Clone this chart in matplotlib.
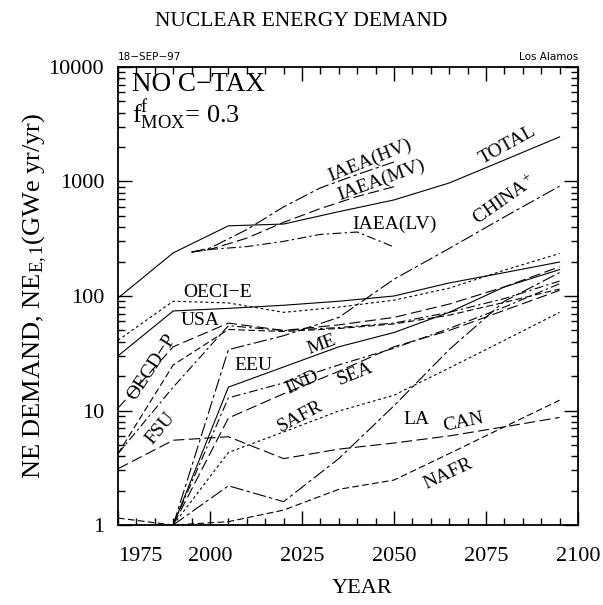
import numpy as np
import matplotlib
matplotlib.use("Agg")
import matplotlib.pyplot as plt
from matplotlib.ticker import FixedLocator, NullFormatter

plt.rcParams["font.family"] = ["Liberation Serif", "DejaVu Serif"]
plt.rcParams["mathtext.fontset"] = "custom"
plt.rcParams["mathtext.rm"] = "Liberation Serif"
plt.rcParams["mathtext.it"] = "Liberation Serif:italic"

# model years
years = [1975, 1990, 2005, 2020, 2035, 2050, 2065, 2080, 2095]
iaea_years = [1995, 2000, 2010, 2020, 2030, 2040, 2050]

# GWe yr/yr (None = not drawn)
total = [96, 238, 410, 425, 545, 690, 970, 1540, 2450]
oeci_e = [41, 90, 87, 72, 80, 92, 117, 168, 235]
usa = [30, 74, 78, 83, 90, 100, 130, 160, 198]
oecd_p = [10.5, 36, 58, 50, 56, 65, 85, 120, 180]
fsu = [4.2, 16, 55, 50, 53, 58, 72, 95, 135]
eeu = [4.2, 25, 51, 49, 52, 57, 68, 88, 115]
china = [None, 1, 34, 45, 65, 140, 260, 490, 910]
me = [None, 1, 16, 24, 36, 48, 72, 120, 170]
ind = [None, 1, 12.9, 17.4, 25, 35, 52, 80, 128]
sea = [None, 1, 8.6, 14, 22, 36, 50, 75, 112]
safr = [None, 1, 4.3, 6.5, 9.9, 13.6, 23.5, 41, 72]
la = [None, 1, 2.2, 1.6, 3.8, 11, 34, 90, 160]
can = [3.1, 5.5, 5.9, 3.8, 4.6, 5.2, 6.0, 7.2, 8.7]
nafr = [1.15, 1.0, 1.07, 1.35, 2.05, 2.47, 4.2, 7.2, 12.3]

iaea_hv = [242, 262, 380, 600, 880, 1150, 1480]
iaea_mv = [242, 255, 320, 440, 580, 740, 900]
iaea_lv = [242, 255, 270, 300, 345, 362, 268]

DOT = (0, (2.5, 2.5))
DASH = (0, (6, 3))
LDASH = (0, (10, 4))
DASHDOT = (0, (8, 3, 2, 3))
LDASHDOT = (0, (12, 3, 3, 3))

series = [
    (total, "-"), (oeci_e, DOT), (usa, "-"), (oecd_p, LDASH),
    (fsu, DASHDOT), (eeu, DASH), (china, LDASHDOT), (me, "-"),
    (ind, DASHDOT), (sea, LDASH), (safr, DOT), (la, LDASHDOT),
    (can, LDASH), (nafr, DASH),
]

fig = plt.figure(figsize=(6.03, 6.05), dpi=100)
ax = fig.add_axes([0.1957, 0.1322, 0.7628, 0.7571])

for vals, ls in series:
    x = [y for y, v in zip(years, vals) if v is not None]
    v = [v for v in vals if v is not None]
    ax.plot(x, v, color="black", lw=0.8, linestyle=ls)

ax.plot(iaea_years, iaea_hv, color="black", lw=0.8, linestyle=LDASHDOT)
ax.plot(iaea_years, iaea_mv, color="black", lw=0.8, linestyle=LDASH)
ax.plot(iaea_years, iaea_lv, color="black", lw=0.8, linestyle=DASHDOT)

ax.set_yscale("log")
ax.set_xlim(1975, 2100)
ax.set_ylim(1, 10000)

ax.set_xticks([1975, 2000, 2025, 2050, 2075, 2100])
ax.xaxis.set_minor_locator(FixedLocator(np.arange(1975, 2101, 5)))
ax.set_yticks([1, 10, 100, 1000, 10000])
ax.set_yticklabels(["1", "10", "100", "1000", "10000"])
ax.yaxis.set_minor_formatter(NullFormatter())
ax.tick_params(which="both", direction="in", top=True, right=True,
               labelsize=16, width=1.0)
ax.tick_params(which="major", length=10)
ax.tick_params(axis="x", which="major", pad=16)
ax.tick_params(axis="y", which="major", pad=10)
ax.tick_params(which="minor", length=5)
ax.get_xticklabels()[0].set_horizontalalignment("left")
for s in ax.spines.values():
    s.set_linewidth(1.3)

ax.set_xlabel("YEAR", fontsize=16)
ax.xaxis.set_label_coords(0.53, -0.117)
ax.set_ylabel(r"NE DEMAND, NE$_{\mathrm{E,1}}$(GWe yr/yr)", fontsize=19)
ax.yaxis.set_label_coords(-0.15, 0.5)
fig.text(0.5, 0.965, "NUCLEAR ENERGY DEMAND", ha="center", va="center",
         fontsize=15.5)
fig.text(0.1957, 0.897, "18\u2212SEP\u221297", fontsize=7.5,
         family="DejaVu Sans", va="bottom")
fig.text(0.9585, 0.897, "Los Alamos", fontsize=7.5, family="DejaVu Sans",
         va="bottom", ha="right")

ax.text(0.03, 0.99, "NO C\u2212TAX", transform=ax.transAxes, fontsize=19.5,
        va="top")
ax.text(0.03, 0.932, r"f$^{\mathrm{f}}_{\mathrm{MOX}}$= 0.3",
        transform=ax.transAxes, fontsize=19, va="top")

labels = [
    ("TOTAL", 2081, 2080, 29), (r"CHINA$^+$", 2080, 690, 35),
    ("IAEA(HV)", 2043.5, 1540, 22), ("IAEA(MV)", 2046.5, 1030, 20),
    ("IAEA(LV)", 2050, 425, 0), ("OECI\u2212E", 2002, 108, 0),
    ("USA", 1997.3, 60.5, 0), ("OECD\u2212P", 1984.2, 24, 57),
    ("FSU", 1986.4, 7.0, 50), ("EEU", 2011.7, 24.5, 0),
    ("ME", 2030.4, 37.3, 20), ("IND", 2025, 17.4, 25),
    ("SEA", 2039.4, 20.8, 22), ("SAFR", 2024.5, 8.8, 28),
    ("LA", 2056, 8.4, 0), ("CAN", 2068.8, 7.9, 12), ("NAFR", 2064.7, 2.79, 25),
]
for txt, x, y, rot in labels:
    ax.text(x, y, txt, fontsize=14, rotation=rot, ha="center", va="center",
            rotation_mode="anchor")

fig.savefig("out.png", dpi=100)
